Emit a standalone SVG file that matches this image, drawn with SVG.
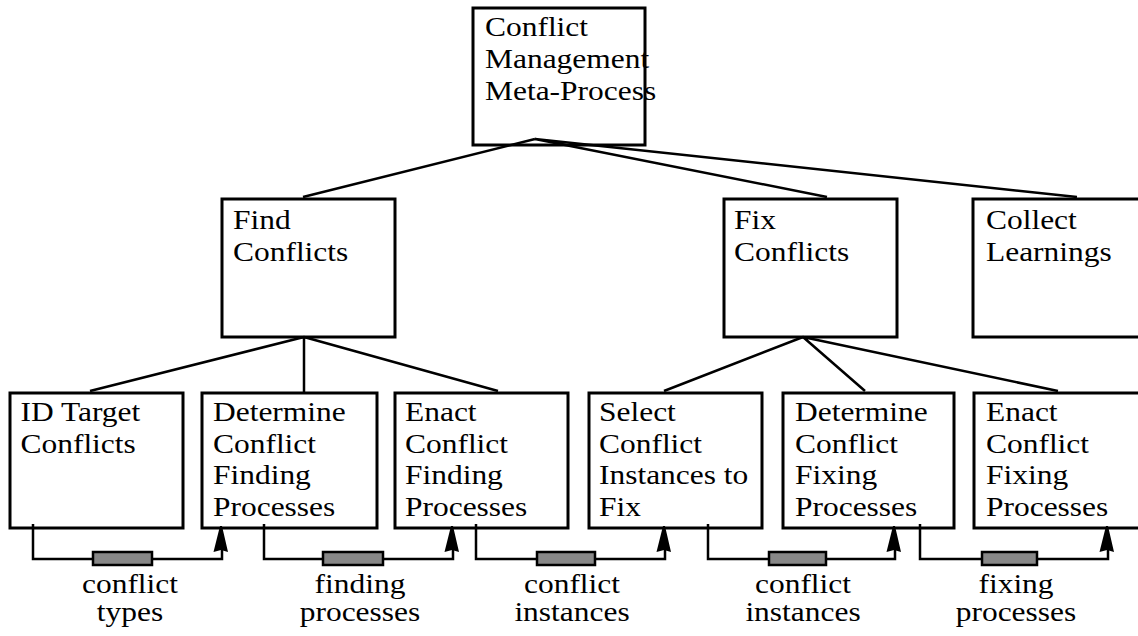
<svg xmlns="http://www.w3.org/2000/svg" width="1138" height="636" viewBox="0 0 1138 636">
<style>
.box{fill:#fff;stroke:#000;stroke-width:3}
.ln{fill:none;stroke:#000;stroke-width:2.5}
text{font-family:'Liberation Serif','DejaVu Serif',serif;font-size:27px;fill:#000}
.c{text-anchor:middle}
.bar{fill:#888;stroke:#000;stroke-width:2.5}
</style>
<defs>
<path id="ah" d="M-1,0 L-7.5,26 L0,24 L7,26 L1,0 Z" fill="#000"/>
</defs>
<rect width="1138" height="636" fill="#fff"/>
<g font-family="Liberation Serif, serif">
<g id="meta">
<rect class="box" x="473" y="8" width="172" height="137"/>
<text transform="translate(485,36) scale(1.165,1)"><tspan x="0" y="0">Conflict</tspan><tspan x="0" y="32">Management</tspan><tspan x="0" y="64">Meta-Process</tspan></text>
</g>
<g id="find">
<rect class="box" x="222" y="199" width="173" height="138"/>
<text transform="translate(233,229) scale(1.165,1)"><tspan x="0" y="0">Find</tspan><tspan x="0" y="32">Conflicts</tspan></text>
</g>
<g id="fix">
<rect class="box" x="724" y="199" width="173" height="138"/>
<text transform="translate(734,229) scale(1.165,1)"><tspan x="0" y="0">Fix</tspan><tspan x="0" y="32">Conflicts</tspan></text>
</g>
<g id="collect">
<rect class="box" x="973" y="199" width="175" height="138"/>
<text transform="translate(986,229) scale(1.165,1)"><tspan x="0" y="0">Collect</tspan><tspan x="0" y="32">Learnings</tspan></text>
</g>
<g id="idtarget">
<rect class="box" x="10" y="393" width="173" height="135"/>
<text transform="translate(20.5,421) scale(1.165,1)"><tspan x="0" y="0">ID Target</tspan><tspan x="0" y="31.7">Conflicts</tspan></text>
</g>
<g id="detfind">
<rect class="box" x="202" y="393" width="175" height="135"/>
<text transform="translate(213,421) scale(1.165,1)"><tspan x="0" y="0">Determine</tspan><tspan x="0" y="31.7">Conflict</tspan><tspan x="0" y="63.4">Finding</tspan><tspan x="0" y="95.1">Processes</tspan></text>
</g>
<g id="enactfind">
<rect class="box" x="395" y="393" width="173" height="135"/>
<text transform="translate(405,421) scale(1.165,1)"><tspan x="0" y="0">Enact</tspan><tspan x="0" y="31.7">Conflict</tspan><tspan x="0" y="63.4">Finding</tspan><tspan x="0" y="95.1">Processes</tspan></text>
</g>
<g id="select">
<rect class="box" x="589" y="393" width="173" height="135"/>
<text transform="translate(599,421) scale(1.165,1)"><tspan x="0" y="0">Select</tspan><tspan x="0" y="31.7">Conflict</tspan><tspan x="0" y="63.4">Instances to</tspan><tspan x="0" y="95.1">Fix</tspan></text>
</g>
<g id="detfix">
<rect class="box" x="783" y="393" width="171" height="135"/>
<text transform="translate(795,421) scale(1.165,1)"><tspan x="0" y="0">Determine</tspan><tspan x="0" y="31.7">Conflict</tspan><tspan x="0" y="63.4">Fixing</tspan><tspan x="0" y="95.1">Processes</tspan></text>
</g>
<g id="enactfix">
<rect class="box" x="974" y="393" width="175" height="135"/>
<text transform="translate(986,421) scale(1.165,1)"><tspan x="0" y="0">Enact</tspan><tspan x="0" y="31.7">Conflict</tspan><tspan x="0" y="63.4">Fixing</tspan><tspan x="0" y="95.1">Processes</tspan></text>
</g>
<g id="connectors">
<path class="ln" d="M535,139 L303,197 M535,139 L827,197 M535,139 L1077,197"/>
<path class="ln" d="M304,337 L90,391 M304,337 L304,392 M304,337 L498,391"/>
<path class="ln" d="M803,337 L664,391 M803,337 L865,391 M803,337 L1058,391"/>
<path class="ln" d="M33,524 V559 H222 V540"/>
<path class="ln" d="M264,524 V559 H453 V540"/>
<path class="ln" d="M476,524 V559 H665 V540"/>
<path class="ln" d="M708,524 V559 H895 V540"/>
<path class="ln" d="M920,524 V559 H1108 V540"/>
<use href="#ah" x="221" y="526"/>
<use href="#ah" x="452" y="526"/>
<use href="#ah" x="664" y="526"/>
<use href="#ah" x="894" y="526"/>
<use href="#ah" x="1107" y="526"/>
<rect class="bar" x="93" y="552" width="59" height="13"/>
<rect class="bar" x="323" y="552" width="60" height="13"/>
<rect class="bar" x="537" y="552" width="58" height="13"/>
<rect class="bar" x="769" y="552" width="57" height="13"/>
<rect class="bar" x="982" y="552" width="55" height="13"/>
<text class="c" transform="translate(130,593) scale(1.165,1)"><tspan x="0" y="0">conflict</tspan><tspan x="0" y="28">types</tspan></text>
<text class="c" transform="translate(360,593) scale(1.165,1)"><tspan x="0" y="0">finding</tspan><tspan x="0" y="28">processes</tspan></text>
<text class="c" transform="translate(572,593) scale(1.165,1)"><tspan x="0" y="0">conflict</tspan><tspan x="0" y="28">instances</tspan></text>
<text class="c" transform="translate(803,593) scale(1.165,1)"><tspan x="0" y="0">conflict</tspan><tspan x="0" y="28">instances</tspan></text>
<text class="c" transform="translate(1016,593) scale(1.165,1)"><tspan x="0" y="0">fixing</tspan><tspan x="0" y="28">processes</tspan></text>
</g>
</g>
</svg>
